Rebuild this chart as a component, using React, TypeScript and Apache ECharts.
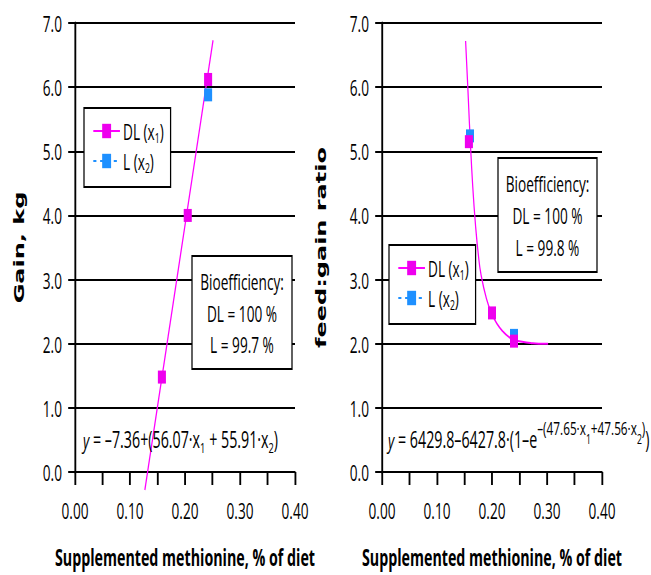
import React, { useEffect, useRef } from "react";
import * as echarts from "echarts";

// ---------- data ----------
const xAxisTitle = "Supplemented methionine, % of diet";
const leftYTitle = "Gain, kg";
const rightYTitle = "feed:gain ratio";
const seriesNames = ["DL (x₁)", "L (x₂)"];

// Gain (left panel)
const gainDL = [
  [0.158, 1.48],
  [0.205, 4.0],
  [0.242, 6.12],
];
const gainL = [[0.242, 5.88]];
const gainFit = [
  [0.127, -0.28],
  [0.251, 6.73],
];

// feed:gain (right panel)
const fgDL = [
  [0.158, 5.15],
  [0.2, 2.48],
  [0.24, 2.04],
];
const fgL = [
  [0.16, 5.24],
  [0.24, 2.13],
];
const fgFit = [
  [0.152, 6.72],
  [0.156, 6.0],
  [0.16, 5.25],
  [0.165, 4.45],
  [0.17, 3.85],
  [0.175, 3.4],
  [0.18, 3.08],
  [0.19, 2.7],
  [0.2, 2.46],
  [0.21, 2.3],
  [0.22, 2.19],
  [0.23, 2.11],
  [0.24, 2.06],
  [0.255, 2.03],
  [0.27, 2.01],
  [0.285, 2.0],
  [0.302, 2.0],
];

const leftBio = ["Bioefficiency:", "DL = 100 %", "L = 99.7 %"];
const rightBio = ["Bioefficiency:", "DL = 100 %", "L = 99.8 %"];
const leftEq = "{i|y} = –7.36+(56.07·x{s|1} + 55.91·x{s|2})";
const rightEq =
  "{i|y} = 6429.8–6427.8·(1–e{p|–(47.65·x}{ps|1}{p|+47.56·x}{ps|2}{p|)})";

// ---------- layout ----------
const S = 0.62; // horizontal compression of the whole picture
const W = 651;
const H = 575;
const IW = Math.round(W / S);
const X = (px: number) => px / S; // outer x -> inner x

const MAG = "#FF00FF";
const MAG_MK = "#EE00EE";
const BLUE = "#1E90FF";
const FONT = "Open Sans";

const grids = [
  { left: X(75), width: X(295) - X(75), top: 23, height: 449 },
  { left: X(382), width: X(602) - X(382), top: 23, height: 449 },
];

function xAxis(gi: number) {
  return {
    type: "value",
    gridIndex: gi,
    min: 0,
    max: 0.4,
    interval: 0.05,
    axisLine: { onZero: false, lineStyle: { color: "#000", width: 2 } },
    axisTick: { show: true, length: 13, lineStyle: { color: "#000", width: 3 } },
    splitLine: { show: false },
    axisLabel: {
      formatter: (v: number) =>
        Math.round(v * 100) % 10 === 0 ? v.toFixed(2) : "",
      margin: 27,
      fontFamily: FONT,
      fontSize: 22,
      color: "#000",
    },
    name: xAxisTitle,
    nameLocation: "middle",
    nameGap: 74,
    nameTextStyle: {
      fontFamily: FONT,
      fontWeight: "bold",
      fontSize: 23,
      color: "#000",
    },
  };
}

function yAxis(gi: number, name: string, gap: number) {
  return {
    type: "value",
    gridIndex: gi,
    min: 0,
    max: 7,
    interval: 1,
    axisLine: { show: true, lineStyle: { color: "#000", width: 3 } },
    axisTick: { show: true, length: 11, lineStyle: { color: "#000", width: 2 } },
    splitLine: { show: true, lineStyle: { color: "#000", width: 2 } },
    axisLabel: {
      formatter: (v: number) => v.toFixed(1),
      margin: 21,
      fontFamily: FONT,
      fontSize: 22,
      color: "#000",
    },
    name,
    nameLocation: "middle",
    nameGap: gap,
    nameTextStyle: {
      fontFamily: "DejaVu Sans",
      fontWeight: "bold",
      fontSize: 24,
      color: "#000",
    },
  };
}

function fitSeries(gi: number, data: number[][], smooth: boolean) {
  return {
    type: "line",
    name: "fit" + gi,
    xAxisIndex: gi,
    yAxisIndex: gi,
    data,
    smooth,
    symbol: "none",
    clip: false,
    silent: true,
    lineStyle: { color: MAG, width: 2 },
    z: 2,
  };
}

function pointSeries(gi: number, name: string, data: number[][], color: string, z: number) {
  return {
    type: "line",
    name,
    xAxisIndex: gi,
    yAxisIndex: gi,
    data,
    symbol: "rect",
    symbolSize: 13,
    showSymbol: true,
    showAllSymbol: true,
    lineStyle: { width: 0, opacity: 0, color },
    itemStyle: { color },
    z,
  };
}

function legend(left: number, top: number) {
  return {
    orient: "vertical",
    left,
    top,
    padding: [12, 11, 12, 14],
    itemWidth: 43,
    itemHeight: 18,
    itemGap: 5,
    borderColor: "#000",
    borderWidth: 2,
    backgroundColor: "#fff",
    selectedMode: false,
    formatter: (n: string) =>
      n.replace("₁", "{s|1}").replace("₂", "{s|2}"),
    textStyle: {
      fontFamily: FONT,
      fontSize: 22,
      color: "#000",
      rich: {
        s: { fontFamily: FONT, fontSize: 14, color: "#000", padding: [14, 0, 0, 0] },
      },
    },
    data: [
      {
        name: seriesNames[0],
        itemStyle: { color: MAG_MK },
        lineStyle: { color: MAG, width: 2, opacity: 1, type: "solid" },
      },
      {
        name: seriesNames[1],
        itemStyle: { color: BLUE },
        lineStyle: { color: BLUE, width: 2, opacity: 1, type: [5, 6] },
      },
    ],
  };
}

function bioBox(x0: number, y0: number, w: number, h: number, lines: string[]) {
  return [
    {
      type: "rect",
      z: 50,
      shape: { x: X(x0), y: y0, width: X(x0 + w) - X(x0), height: h },
      style: { fill: "#fff", stroke: "#000", lineWidth: 2 },
    },
    {
      type: "text",
      z: 51,
      x: X(x0 + w / 2),
      y: y0 + h / 2,
      style: {
        text: lines.join("\n"),
        fontFamily: FONT,
        fontSize: 22,
        lineHeight: 32,
        align: "center",
        verticalAlign: "middle",
        fill: "#000",
      },
    },
  ];
}

const eqRich = {
  i: { fontFamily: FONT, fontSize: 22, fontStyle: "italic", fill: "#000" },
  s: { fontFamily: FONT, fontSize: 15, fill: "#000", padding: [16, 0, 0, 0] },
  p: { fontFamily: FONT, fontSize: 19, fill: "#000", padding: [0, 0, 24, 0] },
  ps: { fontFamily: FONT, fontSize: 14, fill: "#000", padding: [0, 0, 2, 0] },
};

const option = {
  animation: false,
  backgroundColor: "#fff",
  grid: grids,
  xAxis: [xAxis(0), xAxis(1)],
  yAxis: [yAxis(0, leftYTitle, 78), yAxis(1, rightYTitle, 87)],
  legend: [legend(X(84), 108), legend(X(389), 245)],
  series: [
    fitSeries(0, gainFit, false),
    pointSeries(0, seriesNames[1], gainL, BLUE, 3),
    pointSeries(0, seriesNames[0], gainDL, MAG_MK, 4),
    fitSeries(1, fgFit, true),
    pointSeries(1, seriesNames[1], fgL, BLUE, 3),
    pointSeries(1, seriesNames[0], fgDL, MAG_MK, 4),
  ],
  graphic: [
    ...bioBox(192, 256, 100, 113, leftBio),
    ...bioBox(498, 158, 99, 114, rightBio),
    {
      type: "text",
      z: 51,
      x: X(83),
      y: 440,
      style: {
        text: leftEq,
        rich: eqRich,
        fontFamily: FONT,
        fontSize: 23,
        verticalAlign: "middle",
        fill: "#000",
      },
    },
    {
      type: "text",
      z: 51,
      x: X(388),
      y: 440,
      style: {
        text: rightEq,
        rich: eqRich,
        fontFamily: FONT,
        fontSize: 23,
        verticalAlign: "middle",
        fill: "#000",
      },
    },
  ],
};

export default function App() {
  const ref = useRef<HTMLDivElement>(null);
  useEffect(() => {
    document.body.style.margin = "0";
    const chart = echarts.init(ref.current as HTMLDivElement, null, {
      renderer: "svg",
      width: IW,
      height: H,
    });
    chart.setOption(option as any);
    return () => chart.dispose();
  }, []);
  return (
    <div
      style={{
        position: "fixed",
        left: 0,
        top: 0,
        width: W,
        height: H,
        overflow: "hidden",
        background: "#fff",
      }}
    >
      <div
        ref={ref}
        style={{
          width: IW,
          height: H,
          transform: `scaleX(${S})`,
          transformOrigin: "0 0",
        }}
      />
    </div>
  );
}
